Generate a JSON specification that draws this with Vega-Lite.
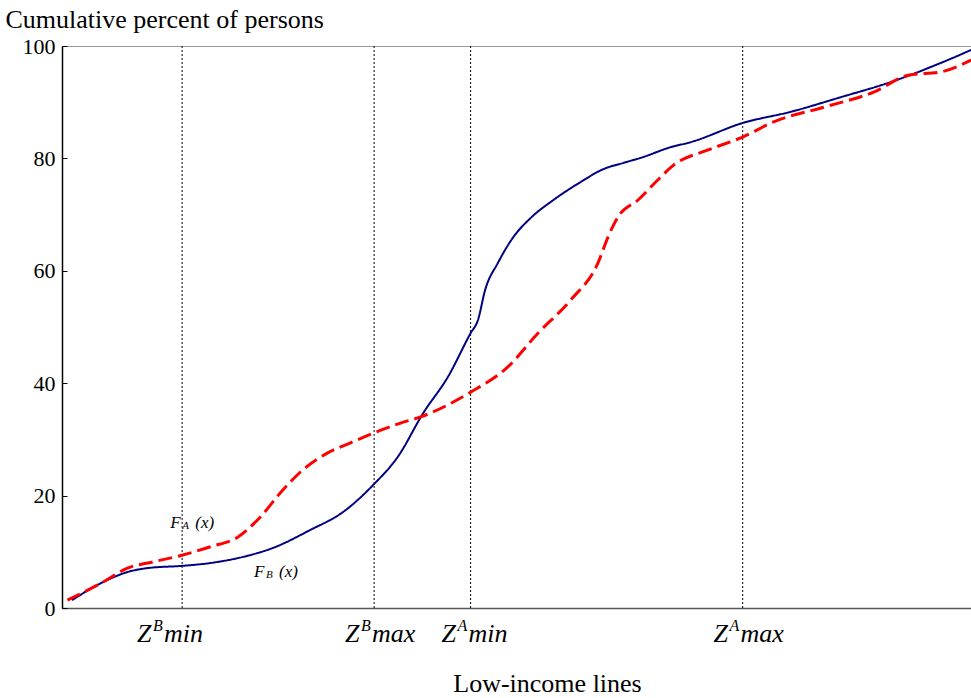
{
  "$schema": "https://vega.github.io/schema/vega-lite/v6.json",
  "autosize": {"type": "none"},
  "padding": {"left": 62, "top": 46, "right": 0, "bottom": 90},
  "width": 910,
  "height": 562,
  "background": "white",
  "config": {
    "view": {"stroke": "#999999", "strokeWidth": 1},
    "font": "Liberation Serif",
    "text": {"font": "Liberation Serif"}
  },
  "datasets": {
    "curves": [
      {"s": "F_B", "x": 1.1, "y": 1.4}, {"s": "F_B", "x": 4.5, "y": 4.6}, {"s": "F_B", "x": 7.2, "y": 6.4}, {"s": "F_B", "x": 9.4, "y": 7.1}, {"s": "F_B", "x": 13.2, "y": 7.5}, {"s": "F_B", "x": 16.3, "y": 8.0}, {"s": "F_B", "x": 19.9, "y": 9.1}, {"s": "F_B", "x": 23.2, "y": 10.7}, {"s": "F_B", "x": 27.3, "y": 13.9}, {"s": "F_B", "x": 30.9, "y": 17.1}, {"s": "F_B", "x": 34.2, "y": 21.9}, {"s": "F_B", "x": 36.9, "y": 26.9}, {"s": "F_B", "x": 39.7, "y": 34.7}, {"s": "F_B", "x": 42.4, "y": 41.1}, {"s": "F_B", "x": 44.9, "y": 48.9}, {"s": "F_B", "x": 45.7, "y": 51.2}, {"s": "F_B", "x": 46.5, "y": 56.6}, {"s": "F_B", "x": 47.9, "y": 61.4}, {"s": "F_B", "x": 49.6, "y": 66.0}, {"s": "F_B", "x": 51.5, "y": 69.4}, {"s": "F_B", "x": 54.0, "y": 72.6}, {"s": "F_B", "x": 57.0, "y": 75.8}, {"s": "F_B", "x": 59.5, "y": 78.1}, {"s": "F_B", "x": 61.7, "y": 79.2}, {"s": "F_B", "x": 63.6, "y": 80.1}, {"s": "F_B", "x": 66.9, "y": 82.0}, {"s": "F_B", "x": 69.1, "y": 82.9}, {"s": "F_B", "x": 74.8, "y": 86.3}, {"s": "F_B", "x": 80.1, "y": 88.3}, {"s": "F_B", "x": 85.6, "y": 90.9}, {"s": "F_B", "x": 91.1, "y": 93.6}, {"s": "F_B", "x": 96.6, "y": 97.0}, {"s": "F_B", "x": 99.9, "y": 99.3},
      {"s": "F_A", "x": 0.6, "y": 1.4}, {"s": "F_A", "x": 4.5, "y": 4.6}, {"s": "F_A", "x": 7.2, "y": 7.1}, {"s": "F_A", "x": 10.0, "y": 8.2}, {"s": "F_A", "x": 13.2, "y": 9.4}, {"s": "F_A", "x": 16.3, "y": 10.9}, {"s": "F_A", "x": 19.3, "y": 12.6}, {"s": "F_A", "x": 21.8, "y": 16.2}, {"s": "F_A", "x": 24.0, "y": 20.5}, {"s": "F_A", "x": 26.2, "y": 24.2}, {"s": "F_A", "x": 29.2, "y": 27.6}, {"s": "F_A", "x": 31.7, "y": 29.4}, {"s": "F_A", "x": 34.2, "y": 31.1}, {"s": "F_A", "x": 37.2, "y": 32.9}, {"s": "F_A", "x": 39.4, "y": 34.0}, {"s": "F_A", "x": 44.9, "y": 38.4}, {"s": "F_A", "x": 49.0, "y": 42.9}, {"s": "F_A", "x": 52.3, "y": 48.9}, {"s": "F_A", "x": 55.9, "y": 54.8}, {"s": "F_A", "x": 58.9, "y": 61.4}, {"s": "F_A", "x": 60.0, "y": 66.0}, {"s": "F_A", "x": 61.1, "y": 69.6}, {"s": "F_A", "x": 63.3, "y": 72.6}, {"s": "F_A", "x": 65.5, "y": 76.2}, {"s": "F_A", "x": 67.2, "y": 78.8}, {"s": "F_A", "x": 71.0, "y": 81.5}, {"s": "F_A", "x": 74.8, "y": 83.8}, {"s": "F_A", "x": 78.2, "y": 86.5}, {"s": "F_A", "x": 83.7, "y": 89.1}, {"s": "F_A", "x": 89.2, "y": 91.8}, {"s": "F_A", "x": 93.0, "y": 94.8}, {"s": "F_A", "x": 96.6, "y": 95.4}, {"s": "F_A", "x": 99.9, "y": 97.5}
    ],
    "zlines": [
      {"x": 13.2, "lx": 8.25, "ly": -6.0, "base": "Z", "sup": "B", "rest": "min"},
      {"x": 34.3, "lx": 31.1, "ly": -6.0, "base": "Z", "sup": "B", "rest": "max"},
      {"x": 44.9, "lx": 41.7, "ly": -6.0, "base": "Z", "sup": "A", "rest": "min"},
      {"x": 74.8, "lx": 71.6, "ly": -6.0, "base": "Z", "sup": "A", "rest": "max"}
    ],
    "flabels": [
      {"lx": 11.9, "ly": 14.2, "base": "F", "sub": "A", "rest": "(x)"},
      {"lx": 21.1, "ly": 5.5, "base": "F", "sub": "B", "rest": "(x)"}
    ]
  },
  "layer": [
    {
      "data": {"name": "zlines"},
      "mark": {"type": "rule", "color": "black", "strokeWidth": 1, "strokeDash": [2, 2]},
      "encoding": {
        "x": {"field": "x", "type": "quantitative", "scale": {"domain": [0, 100], "nice": false},
          "axis": {"labels": false, "ticks": false, "grid": false, "domainColor": "#555555", "domainWidth": 1.5, "title": "Low-income lines", "titleFontSize": 26, "titleFontWeight": "normal", "titleFont": "Liberation Serif", "titleColor": "black", "titleAnchor": "start", "titleAlign": "center", "titleX": 485, "titlePadding": 62}},
        "y": {"datum": 0, "type": "quantitative", "scale": {"domain": [0, 100], "nice": false}},
        "y2": {"datum": 100}
      }
    },
    {
      "data": {"name": "curves"},
      "mark": {"type": "line", "interpolate": "monotone"},
      "encoding": {
        "x": {"field": "x", "type": "quantitative"},
        "y": {"field": "y", "type": "quantitative", "scale": {"domain": [0, 100], "nice": false},
          "axis": {"values": [0, 20, 40, 60, 80, 100], "grid": false, "domainColor": "black", "domainWidth": 1.5, "tickColor": "black", "tickSize": -5, "labelFontSize": 22, "labelFont": "Liberation Serif", "labelColor": "black", "labelPadding": 12,
            "title": "Cumulative percent of persons", "titleAngle": 0, "titleAlign": "left", "titleBaseline": "alphabetic", "titleX": -57, "titleY": -19, "titleFontSize": 26, "titleFontWeight": "normal", "titleFont": "Liberation Serif", "titleColor": "black"}},
        "color": {"field": "s", "type": "nominal", "scale": {"domain": ["F_A", "F_B"], "range": ["#ff0000", "#000080"]}, "legend": null},
        "strokeDash": {"field": "s", "type": "nominal", "scale": {"domain": ["F_A", "F_B"], "range": [[14, 6], [1, 0]]}, "legend": null},
        "strokeWidth": {"field": "s", "type": "nominal", "scale": {"domain": ["F_A", "F_B"], "range": [3, 2]}, "legend": null}
      }
    },
    {
      "data": {"name": "zlines"},
      "mark": {"type": "text", "align": "left", "baseline": "alphabetic", "fontSize": 26, "fontStyle": "italic", "color": "black"},
      "encoding": {"x": {"field": "lx", "type": "quantitative"}, "y": {"field": "ly", "type": "quantitative"}, "text": {"field": "base"}}
    },
    {
      "data": {"name": "zlines"},
      "mark": {"type": "text", "align": "left", "baseline": "alphabetic", "fontSize": 16, "fontStyle": "italic", "color": "black", "dx": 16, "dy": -11},
      "encoding": {"x": {"field": "lx", "type": "quantitative"}, "y": {"field": "ly", "type": "quantitative"}, "text": {"field": "sup"}}
    },
    {
      "data": {"name": "zlines"},
      "mark": {"type": "text", "align": "left", "baseline": "alphabetic", "fontSize": 26, "fontStyle": "italic", "color": "black", "dx": 27},
      "encoding": {"x": {"field": "lx", "type": "quantitative"}, "y": {"field": "ly", "type": "quantitative"}, "text": {"field": "rest"}}
    },
    {
      "data": {"name": "flabels"},
      "mark": {"type": "text", "align": "left", "baseline": "alphabetic", "fontSize": 17, "fontStyle": "italic", "color": "black"},
      "encoding": {"x": {"field": "lx", "type": "quantitative"}, "y": {"field": "ly", "type": "quantitative"}, "text": {"field": "base"}}
    },
    {
      "data": {"name": "flabels"},
      "mark": {"type": "text", "align": "left", "baseline": "alphabetic", "fontSize": 11, "fontStyle": "italic", "color": "black", "dx": 12, "dy": 1},
      "encoding": {"x": {"field": "lx", "type": "quantitative"}, "y": {"field": "ly", "type": "quantitative"}, "text": {"field": "sub"}}
    },
    {
      "data": {"name": "flabels"},
      "mark": {"type": "text", "align": "left", "baseline": "alphabetic", "fontSize": 17, "fontStyle": "italic", "color": "black", "dx": 25},
      "encoding": {"x": {"field": "lx", "type": "quantitative"}, "y": {"field": "ly", "type": "quantitative"}, "text": {"field": "rest"}}
    }
  ]
}
